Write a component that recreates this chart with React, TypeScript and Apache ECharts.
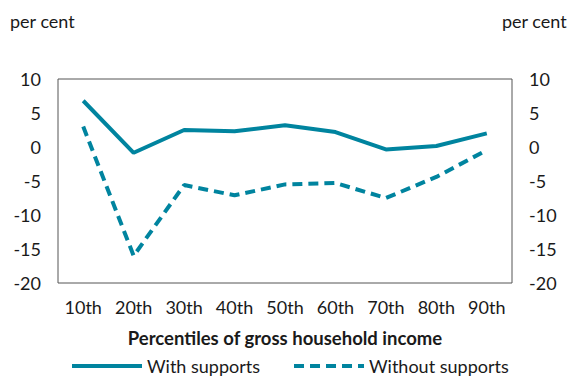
import React, { useEffect, useRef } from "react";
import * as echarts from "echarts";

const categories = ["10th", "20th", "30th", "40th", "50th", "60th", "70th", "80th", "90th"];
const withSupports = [6.8, -0.85, 2.5, 2.3, 3.2, 2.2, -0.35, 0.15, 2.0];
const withoutSupports = [3.0, -16.0, -5.6, -7.1, -5.5, -5.3, -7.5, -4.4, -0.45];
const seriesNames = ["With supports", "Without supports"];
const unitLabel = "per cent";
const xAxisTitle = "Percentiles of gross household income";

const COLOR = "#00849f";
const FONT = "Lato";

export default function App() {
  const ref = useRef<HTMLDivElement>(null);
  useEffect(() => {
    if (!ref.current) return;
    const chart = echarts.init(ref.current, undefined, { renderer: "svg" });
    const yAxisCommon = {
      type: "value" as const,
      min: -20,
      max: 10,
      interval: 5,
      axisLine: { show: false },
      axisTick: { show: false },
      splitLine: { show: false },
      axisLabel: { color: "#1a1a1a", fontSize: 18, fontFamily: FONT, margin: 17 },
    };
    chart.setOption({
      animation: false,
      textStyle: { fontFamily: FONT },
      grid: {
        left: 58,
        right: 58,
        top: 79,
        bottom: 97,
        show: true,
        borderColor: "#555",
        borderWidth: 1,
        backgroundColor: "transparent",
      },
      graphic: [
        { type: "text", left: 10, top: 12, style: { text: unitLabel, fontSize: 18, fontFamily: FONT, fill: "#1a1a1a" } },
        { type: "text", right: 3, top: 12, style: { text: unitLabel, fontSize: 18, fontFamily: FONT, fill: "#1a1a1a" } },
      ],
      xAxis: {
        type: "category",
        data: categories,
        boundaryGap: true,
        axisLine: { show: false },
        axisTick: { show: false },
        axisLabel: { color: "#1a1a1a", fontSize: 18, fontFamily: FONT, margin: 15, interval: 0 },
        name: xAxisTitle,
        nameLocation: "middle",
        nameGap: 45,
        nameTextStyle: { color: "#1a1a1a", fontSize: 18.5, fontWeight: "bold", fontFamily: FONT },
      },
      yAxis: [
        { ...yAxisCommon, position: "left" },
        { ...yAxisCommon, position: "right" },
      ],
      legend: {
        top: 355,
        left: 68,
        padding: 2,
        itemWidth: 70,
        itemHeight: 14,
        itemGap: 32,
        itemStyle: { opacity: 0 },
        lineStyle: { width: 4 },
        textStyle: { color: "#1a1a1a", fontSize: 18, fontFamily: FONT },
        data: seriesNames,
      },
      series: [
        {
          name: seriesNames[0],
          type: "line",
          data: withSupports,
          symbol: "none",
          lineStyle: { color: COLOR, width: 4 },
          itemStyle: { color: COLOR },
        },
        {
          name: seriesNames[1],
          type: "line",
          data: withoutSupports,
          symbol: "none",
          lineStyle: { color: COLOR, width: 4, type: [10, 6] },
          itemStyle: { color: COLOR },
        },
      ],
    });
    return () => chart.dispose();
  }, []);
  return <div ref={ref} style={{ width: 570, height: 380, position: "absolute", left: 0, top: 0 }} />;
}
